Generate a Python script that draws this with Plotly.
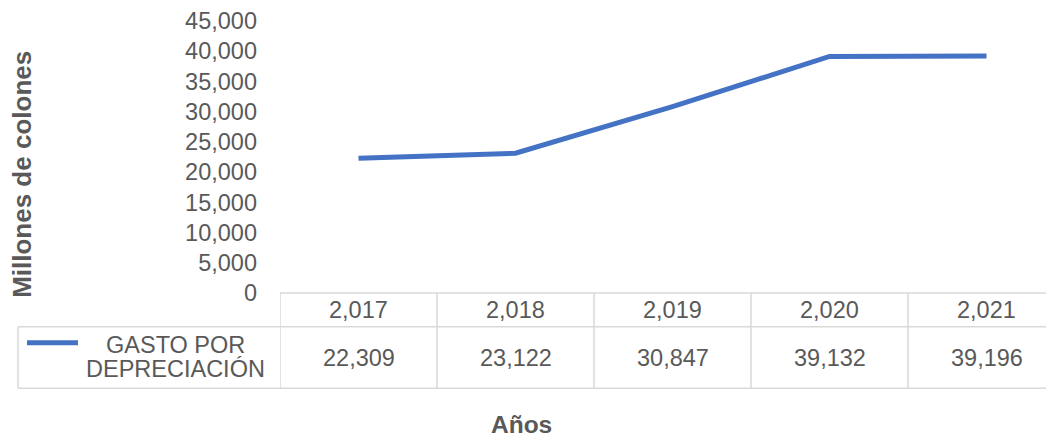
import plotly.graph_objects as go

# ---- data ----
years = [2017, 2018, 2019, 2020, 2021]
year_labels = ["2,017", "2,018", "2,019", "2,020", "2,021"]
gasto = [22309, 23122, 30847, 39132, 39196]
series_name_lines = ["GASTO POR", "DEPRECIACIÓN"]
y_title = "Millones de colones"
x_title = "Años"

# ---- layout constants (reference pixel frame; page body has 8px margin) ----
OFF = 8
W, H = 1054 - OFF, 438 - OFF
PLOT_L, PLOT_R, PLOT_T, PLOT_B = 280, 1054, 19, 293
ML, MT = PLOT_L - OFF, PLOT_T - OFF
MR, MB = W - (PLOT_R - OFF), H - (PLOT_B - OFF)
PW, PH = PLOT_R - PLOT_L, PLOT_B - PLOT_T
COL_W = 157.0
BLUE = "#4472C4"
TXT = "#595959"
GRID = "#D9D9D9"
FONT = "Liberation Sans, Arial, sans-serif"


def py(p):  # reference pixel y -> paper y
    return (PLOT_B - p) / PH


def px(p):  # reference pixel x -> paper x
    return (p - PLOT_L) / PW


xs = list(range(len(years)))

fig = go.Figure()
fig.add_trace(go.Scatter(
    x=xs, y=gasto, mode="lines",
    line=dict(color=BLUE, width=5),
    showlegend=False, hoverinfo="skip", cliponaxis=False,
))

shapes = []
row_top, row_mid, row_bot = 293, 327, 389
shapes.append(dict(type="line", xref="paper", yref="paper", x0=0, x1=1,
                   y0=py(row_top), y1=py(row_top), line=dict(color=GRID, width=1.5)))
for yy in (row_mid, row_bot):
    shapes.append(dict(type="line", xref="paper", yref="paper", x0=px(18), x1=1,
                       y0=py(yy), y1=py(yy), line=dict(color=GRID, width=1.5)))
for i in range(len(years)):
    shapes.append(dict(type="line", xref="x", yref="paper", x0=i - 0.5, x1=i - 0.5,
                       y0=py(row_top), y1=py(row_bot), line=dict(color=GRID, width=1.5)))
shapes.append(dict(type="line", xref="paper", yref="paper", x0=px(18), x1=px(18),
                   y0=py(row_mid), y1=py(row_bot), line=dict(color=GRID, width=1.5)))
shapes.append(dict(type="line", xref="paper", yref="paper", x0=px(27), x1=px(78),
                   y0=py(343), y1=py(343), line=dict(color=BLUE, width=5)))

annotations = []
for i, (lab, v) in enumerate(zip(year_labels, gasto)):
    annotations.append(dict(x=i, y=py(310), xref="x", yref="paper", text=lab,
                            showarrow=False, xanchor="center", yanchor="middle",
                            font=dict(family=FONT, size=23.5, color=TXT)))
    annotations.append(dict(x=i, y=py(358), xref="x", yref="paper", text=f"{v:,}",
                            showarrow=False, xanchor="center", yanchor="middle",
                            font=dict(family=FONT, size=23.5, color=TXT)))
for line_txt, yy in zip(series_name_lines, (345, 370)):
    annotations.append(dict(x=px(175), y=py(yy), xref="paper", yref="paper", text=line_txt,
                            showarrow=False, xanchor="center", yanchor="middle",
                            font=dict(family=FONT, size=23.5, color=TXT)))
annotations.append(dict(x=px(22), y=py(174), xref="paper", yref="paper", text=y_title,
                        showarrow=False, textangle=-90, xanchor="center", yanchor="middle",
                        font=dict(family=FONT, size=26, color=TXT, weight="bold")))
annotations.append(dict(x=px(521), y=py(425), xref="paper", yref="paper", text=x_title,
                        showarrow=False, xanchor="center", yanchor="middle",
                        font=dict(family=FONT, size=24.5, color=TXT, weight="bold")))

fig.update_layout(
    width=W, height=H,
    margin=dict(l=ML, r=MR, t=MT, b=MB, pad=0),
    paper_bgcolor="white", plot_bgcolor="white",
    shapes=shapes, annotations=annotations,
    xaxis=dict(range=[-0.5, -0.5 + PW / COL_W], showticklabels=False, showgrid=False,
               zeroline=False, showline=False, ticks=""),
    yaxis=dict(range=[0, 45000], tickvals=list(range(0, 45001, 5000)), tickformat=",",
               showgrid=False, zeroline=False, showline=False, ticks="",
               ticklabelstandoff=22, ticklabeloverflow="allow",
               tickfont=dict(family=FONT, size=23.5, color=TXT)),
)

fig.write_html("out.html")
